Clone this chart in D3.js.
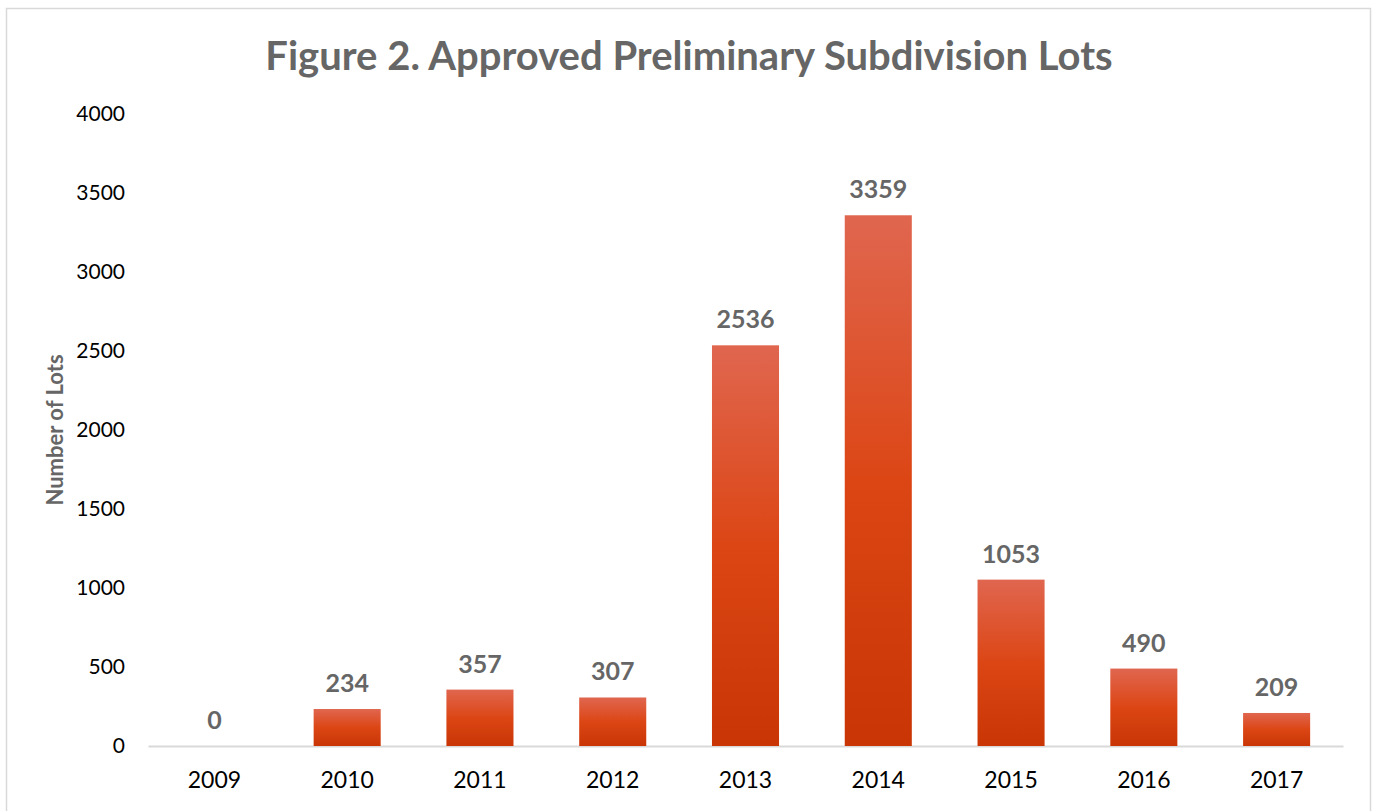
<!DOCTYPE html>
<html>
<head>
<meta charset="utf-8">
<script src="https://cdn.jsdelivr.net/npm/d3@7"></script>
<style>
  body { margin: 0; background: #fff; }
  svg { display: block; font-family: Lato, "Open Sans", sans-serif; }
</style>
</head>
<body>
<div id="chart"></div>
<script>
// chart data
const years = ["2009", "2010", "2011", "2012", "2013", "2014", "2015", "2016", "2017"];
const lots = [0, 234, 357, 307, 2536, 3359, 1053, 490, 209];
const yTicks = [0, 500, 1000, 1500, 2000, 2500, 3000, 3500, 4000];

const W = 1374, H = 811;
const margin = { top: 114, right: 31, bottom: 65, left: 148 };
const innerW = W - margin.left - margin.right;
const innerH = H - margin.top - margin.bottom;

const svg = d3.select("#chart").append("svg")
    .attr("width", W)
    .attr("height", H);

// outer frame
svg.append("rect")
    .attr("x", 6.5).attr("y", 8.5)
    .attr("width", 1364).attr("height", 810)
    .attr("fill", "none")
    .attr("stroke", "#d9d9d9")
    .attr("stroke-width", 1.5);

// bar gradient, light at top, darker at bottom
const grad = svg.append("defs").append("linearGradient")
    .attr("id", "barGrad")
    .attr("x1", 0).attr("y1", 0).attr("x2", 0).attr("y2", 1);
grad.append("stop").attr("offset", "0%").attr("stop-color", "#e0664f");
grad.append("stop").attr("offset", "50%").attr("stop-color", "#dc4615");
grad.append("stop").attr("offset", "100%").attr("stop-color", "#c93505");

const g = svg.append("g")
    .attr("transform", `translate(${margin.left},${margin.top})`);

const x = d3.scaleBand()
    .domain(years)
    .range([0, innerW])
    .paddingInner(0.495)
    .paddingOuter(0.2475);

const y = d3.scaleLinear()
    .domain([0, 4000])
    .range([innerH, 0]);

// y axis, labels only
const yAxis = g.append("g")
    .call(d3.axisLeft(y).tickValues(yTicks).tickFormat(d3.format("d")).tickSize(0).tickPadding(23));
yAxis.select(".domain").remove();
yAxis.selectAll("text")
    .attr("fill", "#000")
    .style("font-size", "21px")
    .style("font-family", "Lato, sans-serif");

// x axis with light baseline
const xAxis = g.append("g")
    .attr("transform", `translate(0,${innerH})`)
    .call(d3.axisBottom(x).tickSize(0).tickPadding(26));
xAxis.select(".domain")
    .attr("stroke", "#d9d9d9")
    .attr("stroke-width", 2);
xAxis.selectAll("text")
    .attr("fill", "#000")
    .style("font-size", "23px")
    .style("font-family", "Lato, sans-serif");

// bars
g.selectAll(".bar")
    .data(lots)
    .enter()
    .append("rect")
    .attr("class", "bar")
    .attr("x", (d, i) => x(years[i]))
    .attr("width", x.bandwidth())
    .attr("y", d => y(d))
    .attr("height", d => innerH - y(d))
    .attr("fill", "url(#barGrad)");

// value labels
g.selectAll(".bar-label")
    .data(lots)
    .enter()
    .append("text")
    .attr("class", "bar-label")
    .text(d => d)
    .attr("x", (d, i) => x(years[i]) + x.bandwidth() / 2)
    .attr("y", d => y(d) - 17)
    .attr("text-anchor", "middle")
    .attr("fill", "#666")
    .style("font-size", "25px")
    .style("font-weight", 700);

// title
svg.append("text")
    .text("Figure 2. Approved Preliminary Subdivision Lots")
    .attr("x", 689)
    .attr("y", 70)
    .attr("text-anchor", "middle")
    .attr("fill", "#666")
    .style("font-size", "40px")
    .style("font-weight", 700);

// y axis title
svg.append("text")
    .text("Number of Lots")
    .attr("transform", "translate(63,430) rotate(-90)")
    .attr("text-anchor", "middle")
    .attr("fill", "#666")
    .style("font-size", "22px")
    .style("font-weight", 700);
</script>
</body>
</html>
